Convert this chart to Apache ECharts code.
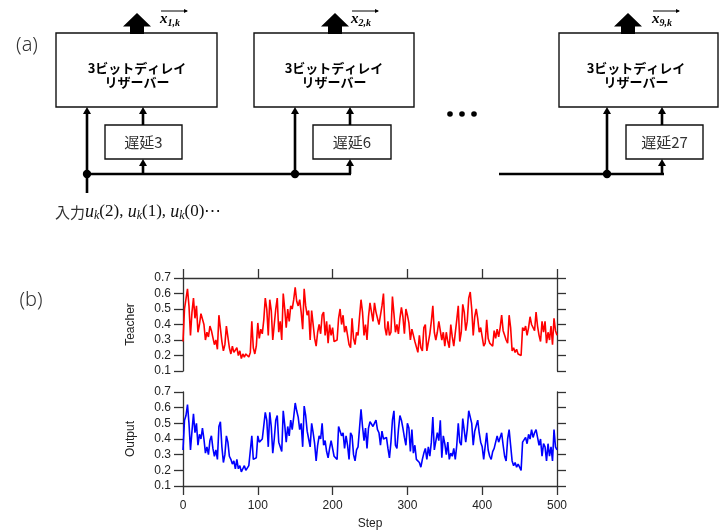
<!DOCTYPE html>
<html>
<head>
<meta charset="utf-8">
<script src="https://cdn.jsdelivr.net/npm/echarts@6/dist/echarts.min.js"></script>
<style>
  html, body { margin: 0; padding: 0; background: #fff; }
  #main { width: 719px; height: 531px; }
</style>
</head>
<body>
<div id="main"></div>
<script>
// step spacing of the sampled values below
const STEP_GAP = 2;

// Teacher signal (red), steps 0..500 every 2
const teacher = [
  0.29,0.50,0.50,0.63,0.52,0.33,0.48,0.57,0.44,0.52,
  0.35,0.40,0.47,0.48,0.40,0.30,0.35,0.32,0.39,0.36,
  0.37,0.27,0.30,0.24,0.46,0.45,0.29,0.23,0.27,0.39,
  0.32,0.25,0.21,0.26,0.22,0.21,0.25,0.20,0.23,0.18,
  0.21,0.19,0.21,0.20,0.19,0.22,0.42,0.25,0.21,0.26,
  0.41,0.31,0.37,0.34,0.43,0.57,0.50,0.33,0.56,0.49,
  0.30,0.40,0.50,0.57,0.35,
  0.42,0.30,0.60,0.50,0.38,0.50,0.42,0.52,0.50,0.56,
  0.64,0.55,0.52,0.56,0.48,0.37,0.63,0.52,0.46,0.49,
  0.30,0.49,0.48,0.31,0.26,0.35,0.40,0.34,0.46,0.48,
  0.33,0.42,0.28,0.40,0.33,0.38,0.29,0.28,0.30,0.44,
  0.50,0.40,0.46,0.35,0.39,0.33,0.27,0.25,0.44,0.31,
  0.27,0.35,0.33,0.45,0.56,0.48,0.33,0.40,0.30,0.45,
  0.54,0.48,0.42,0.54,0.48,0.48,0.40,
  0.40,0.52,0.60,0.38,0.33,0.42,0.33,0.35,0.58,0.47,
  0.35,0.40,0.34,0.44,0.51,0.45,0.34,0.50,0.46,0.41,
  0.30,0.37,0.37,0.29,0.29,0.22,0.33,0.25,0.23,0.38,
  0.40,0.23,0.24,0.34,0.42,0.52,0.35,0.30,0.35,0.42,
  0.42,0.30,0.35,0.26,0.35,0.29,0.25,0.40,0.32,0.26,
  0.27,0.43,0.52,0.29,0.35,0.53,0.48,0.36,0.42,0.57,
  0.61,0.50,0.33,0.45,0.50,0.44,0.35,
  0.38,0.32,0.26,0.28,0.43,0.31,0.28,0.29,0.26,0.36,
  0.31,0.37,0.32,0.38,0.46,0.36,0.33,0.30,0.28,0.46,
  0.38,0.23,0.25,0.22,0.24,0.21,0.22,0.20,0.38,0.36,
  0.39,0.33,0.38,0.45,0.40,0.41,0.36,0.48,0.39,0.33,
  0.29,0.42,0.35,0.42,0.28,0.35,0.30,0.39,0.27,0.44,
  0.36,0.33
];

// Reservoir output (blue), steps 0..500 every 2
const output = [
  0.33,0.52,0.55,0.62,0.50,0.33,0.45,0.56,0.44,0.50,
  0.36,0.43,0.40,0.47,0.40,0.31,0.35,0.30,0.39,0.42,
  0.34,0.29,0.33,0.27,0.48,0.51,0.35,0.25,0.30,0.42,
  0.38,0.29,0.27,0.24,0.26,0.21,0.27,0.21,0.23,0.19,
  0.21,0.23,0.20,0.21,0.23,0.24,0.42,0.27,0.28,0.28,
  0.42,0.38,0.37,0.40,0.41,0.57,0.52,0.35,0.57,0.48,
  0.31,0.40,0.52,0.55,0.38,
  0.38,0.32,0.58,0.49,0.38,0.48,0.42,0.52,0.46,0.54,
  0.63,0.58,0.54,0.46,0.50,0.35,0.61,0.55,0.45,0.40,
  0.35,0.50,0.44,0.37,0.26,0.36,0.42,0.40,0.50,0.36,
  0.39,0.32,0.28,0.34,0.39,0.40,0.29,0.28,0.27,0.48,
  0.49,0.42,0.44,0.34,0.42,0.36,0.27,0.44,0.42,0.30,
  0.26,0.33,0.35,0.47,0.59,0.48,0.39,0.47,0.34,0.47,
  0.51,0.52,0.48,0.49,0.52,0.46,0.44,
  0.36,0.45,0.40,0.40,0.41,0.34,0.28,0.38,0.52,0.58,
  0.36,0.34,0.46,0.55,0.52,0.47,0.41,0.36,0.50,0.47,
  0.32,0.46,0.31,0.36,0.27,0.28,0.25,0.22,0.27,0.31,
  0.34,0.27,0.35,0.29,0.38,0.54,0.33,0.33,0.44,0.39,
  0.52,0.28,0.42,0.37,0.30,0.38,0.27,0.31,0.29,0.34,
  0.27,0.36,0.50,0.38,0.36,0.53,0.52,0.38,0.46,0.58,
  0.57,0.50,0.36,0.45,0.46,0.52,0.44,
  0.38,0.35,0.27,0.28,0.44,0.33,0.29,0.27,0.32,0.34,
  0.35,0.42,0.38,0.39,0.44,0.36,0.29,0.26,0.40,0.46,
  0.36,0.26,0.23,0.25,0.22,0.24,0.22,0.20,0.38,0.39,
  0.41,0.37,0.43,0.40,0.46,0.41,0.44,0.46,0.41,0.36,
  0.40,0.29,0.37,0.35,0.26,0.37,0.29,0.35,0.26,0.46,
  0.35,0.33
];

const xRange = [0, 500];
const yRange = [0.1, 0.7];
const delayLabels = ['遅延3', '遅延6', '遅延27'];
const stateLabels = ['1,k', '2,k', '9,k'];

const toPairs = arr => arr.map((v, i) => [i * STEP_GAP, v]);

// ---------- diagram (a) ----------
const INK = '#000';
const g = [];

function line(x1, y1, x2, y2, w) {
  g.push({ type: 'line', shape: { x1, y1, x2, y2 }, style: { stroke: INK, lineWidth: w || 2.6 } });
}
function arrowUp(x, yFrom, yTo) {
  line(x, yFrom, x, yTo + 6);
  g.push({ type: 'polygon', shape: { points: [[x - 4, yTo + 7], [x + 4, yTo + 7], [x, yTo]] }, style: { fill: INK } });
}
function dot(x, y, r) {
  g.push({ type: 'circle', shape: { cx: x, cy: y, r: r || 4.2 }, style: { fill: INK } });
}
function box(x, y, w, h) {
  g.push({ type: 'rect', shape: { x, y, width: w, height: h }, style: { fill: '#fff', stroke: '#111', lineWidth: 1.4 } });
}
function bigArrow(cx) {
  g.push({ type: 'polygon', shape: { points: [
    [cx - 7, 34], [cx - 7, 26.5], [cx - 14, 26.5], [cx, 13], [cx + 14, 26.5], [cx + 7, 26.5], [cx + 7, 34]
  ] }, style: { fill: INK } });
}
function stateLabel(x, sub) {
  g.push({ type: 'text', x: x, y: 19, style: {
    text: '{v|x}{s|' + sub + '}',
    rich: {
      v: { fontFamily: 'Liberation Serif', fontStyle: 'italic', fontWeight: 'bold', fontSize: 15, fill: '#000', verticalAlign: 'middle', lineHeight: 18 },
      s: { fontFamily: 'Liberation Serif', fontStyle: 'italic', fontWeight: 'bold', fontSize: 10, fill: '#000', verticalAlign: 'bottom', lineHeight: 18 }
    },
    verticalAlign: 'middle'
  } });
  line(x + 1, 11, x + 27, 11, 1);
  g.push({ type: 'polygon', shape: { points: [[x + 24, 9], [x + 28, 11], [x + 24, 13]] }, style: { fill: INK } });
}
function module(m, i) {
  box(m.bx, 33, m.bw, 74);
  g.push({ type: 'text', x: m.tx, y: 75, style: {
    text: '3ビットディレイ\nリザーバー', fontFamily: 'Noto Sans CJK JP', fontWeight: 'bold', fontSize: 13,
    lineHeight: 14, fill: '#000', align: 'center', verticalAlign: 'middle'
  } });
  bigArrow(m.ax);
  stateLabel(m.lx, stateLabels[i]);
  box(m.dx, 125, m.dw, 34);
  g.push({ type: 'text', x: m.dx + m.dw / 2, y: 142, style: {
    text: delayLabels[i], fontFamily: 'Noto Sans CJK JP', fontSize: 15, fill: '#333', align: 'center', verticalAlign: 'middle'
  } });
  arrowUp(m.jx, 174, 107);
  arrowUp(m.da, 125, 107);
  arrowUp(m.da, 174, 159);
  dot(m.jx, 174);
}

const modules = [
  { bx: 56, bw: 161, tx: 137, ax: 137, lx: 160, dx: 105, dw: 77, jx: 87, da: 143 },
  { bx: 254, bw: 160, tx: 334, ax: 335, lx: 351, dx: 313, dw: 78, jx: 295, da: 350 },
  { bx: 559, bw: 159, tx: 636, ax: 628, lx: 652, dx: 626, dw: 77, jx: 607, da: 662 }
];
line(87, 174, 351, 174);
line(87, 174, 87, 193);
line(499, 174, 664, 174);
modules.forEach(module);
[450, 462, 474].forEach(x => dot(x, 114, 2.8));

g.push({ type: 'text', x: 55, y: 212, style: {
  text: '{j|入力}{m|u}{s|k}{n|(2), }{m|u}{s|k}{n|(1), }{m|u}{s|k}{n|(0)⋯}',
  rich: {
    j: { fontFamily: 'Noto Sans CJK JP', fontSize: 15, fill: '#333', verticalAlign: 'middle', lineHeight: 20 },
    m: { fontFamily: 'Liberation Serif', fontStyle: 'italic', fontSize: 18, fill: '#111', verticalAlign: 'middle', lineHeight: 20 },
    s: { fontFamily: 'Liberation Serif', fontStyle: 'italic', fontSize: 12, fill: '#111', verticalAlign: 'bottom', lineHeight: 20 },
    n: { fontFamily: 'Liberation Serif', fontSize: 17, fill: '#111', verticalAlign: 'middle', lineHeight: 20 }
  },
  verticalAlign: 'middle'
} });

g.push({ type: 'text', x: 27, y: 45, style: { text: '(a)', fontFamily: 'Noto Sans', fontWeight: 300, fontSize: 20, fill: '#333', align: 'center', verticalAlign: 'middle' } });
g.push({ type: 'text', x: 31, y: 300, style: { text: '(b)', fontFamily: 'Noto Sans', fontWeight: 300, fontSize: 20, fill: '#333', align: 'center', verticalAlign: 'middle' } });

// ---------- chart (b) ----------
const axisLine = { show: true, onZero: false, lineStyle: { color: '#333', width: 1.3 } };
const axisTick = { show: true, inside: false, length: 9, lineStyle: { color: '#333', width: 1.3 } };
const labelFont = { fontFamily: 'Liberation Sans', fontSize: 12, color: '#222' };

function yAxisLeft(gridIndex, name) {
  return {
    type: 'value', gridIndex, min: yRange[0], max: yRange[1], interval: 0.1, position: 'left',
    axisLine, axisTick, splitLine: { show: false },
    axisLabel: Object.assign({ margin: 12, formatter: v => v.toFixed(1) }, labelFont),
    name, nameLocation: 'middle', nameRotate: 90, nameGap: 46,
    nameTextStyle: { fontFamily: 'Liberation Sans', fontSize: 12, color: '#222' }
  };
}
function yAxisRight(gridIndex) {
  return {
    type: 'value', gridIndex, min: yRange[0], max: yRange[1], interval: 0.1, position: 'right',
    axisLine, axisTick, splitLine: { show: false }, axisLabel: { show: false }
  };
}

const chart = echarts.init(document.getElementById('main'));
chart.setOption({
  animation: false,
  backgroundColor: '#fff',
  grid: [
    { left: 183, top: 278, width: 374, height: 93 },
    { left: 183, top: 392, width: 374, height: 94 }
  ],
  xAxis: [
    { type: 'value', gridIndex: 0, position: 'top', min: xRange[0], max: xRange[1], interval: 100,
      axisLine, axisTick, splitLine: { show: false }, axisLabel: { show: false } },
    { type: 'value', gridIndex: 1, position: 'bottom', min: xRange[0], max: xRange[1], interval: 100,
      axisLine, axisTick, splitLine: { show: false },
      axisLabel: Object.assign({ margin: 14 }, labelFont),
      name: 'Step', nameLocation: 'middle', nameGap: 32,
      nameTextStyle: { fontFamily: 'Liberation Sans', fontSize: 12, color: '#222' } }
  ],
  yAxis: [yAxisLeft(0, 'Teacher'), yAxisRight(0), yAxisLeft(1, 'Output'), yAxisRight(1)],
  series: [
    { name: 'Teacher', type: 'line', xAxisIndex: 0, yAxisIndex: 0, data: toPairs(teacher),
      showSymbol: false, lineStyle: { color: '#ff0000', width: 1.6 }, z: 3 },
    { name: 'Output', type: 'line', xAxisIndex: 1, yAxisIndex: 2, data: toPairs(output),
      showSymbol: false, lineStyle: { color: '#0000ff', width: 1.6 }, z: 3 }
  ],
  graphic: g
});
</script>
</body>
</html>
